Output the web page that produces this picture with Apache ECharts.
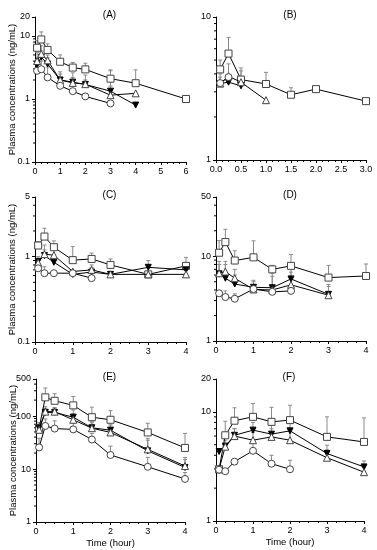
<!DOCTYPE html>
<html><head><meta charset="utf-8">
<script src="https://cdn.jsdelivr.net/npm/echarts@6/dist/echarts.min.js"></script>
<style>html,body{margin:0;padding:0;background:#fff}#c{width:377px;height:550px}</style>
</head><body><div id="c"></div>
<script>
// ---- Data (time in hours, concentration in ng/mL; *Err = mean + SD upper end) ----
const tA = [0.083, 0.25, 0.5, 1, 1.5, 2, 3, 4, 6];
const A_sq = [6.5, 8.8, 6.0, 3.9, 3.15, 2.95, 2.1, 1.78, 1.0];
const A_sqErr = [8.5, 11.6, 7.5, 5.0, 3.8, 3.7, 2.9, 2.9, null];
const A_dn = [3.5, 4.6, 3.6, 2.0, 1.85, 1.7, 1.33, 0.8, null];
const A_dnErr = [4.2, 5.8, 4.5, 2.7, 2.2, 2.0, 1.6, null, null];
const A_tri = [4.0, 5.2, 4.1, 2.0, 1.8, 1.72, 1.15, 1.23, null];
const A_triErr = [5.5, 7.0, 5.0, 2.5, 2.6, 2.4, 2.8, null, null];
const A_ci = [2.8, 2.97, 2.2, 1.62, 1.33, 1.1, 0.85, null, null];
const A_ciErr = [3.5, 4.0, 3.2, null, null, null, null, null, null];

const tB = [0.083, 0.25, 0.5, 1, 1.5, 2, 3];
const B_sq = [4.3, 5.55, 3.65, 3.4, 2.86, 3.13, 2.58];
const B_sqErr = [5.0, 7.2, 4.4, 4.1, 3.2, null, null];
const B_dn = [3.42, 3.5, 3.3, null, null, null, null];
const B_dnErr = [3.8, 3.9, null, null, null, null, null];
const B_tri = [3.42, 3.85, 3.5, 2.62, null, null, null];
const B_triErr = [4.0, 4.7, 4.2, null, null, null, null];
const B_ci = [3.45, 3.8, null, null, null, null, null];
const B_ciErr = [null, null, null, null, null, null, null];

const tC = [0.083, 0.25, 0.5, 1, 1.5, 2, 3, 4];
const C_sq = [1.35, 1.72, 1.29, 0.91, 0.94, 0.80, 0.62, 0.78];
const C_sqErr = [1.5, 2.15, 1.53, 1.31, 1.1, 0.94, null, 0.98];
const C_dn = [0.88, 1.03, 0.86, 0.62, 0.66, 0.62, 0.75, 0.70];
const C_dnErr = [1.0, 1.37, null, null, 0.75, null, 0.9, null];
const C_tri = [0.85, 1.07, 1.04, 0.67, 0.70, 0.62, 0.62, 0.62];
const C_triErr = [null, 1.2, 1.2, null, 0.8, null, null, null];
const C_ci = [0.73, 0.64, 0.64, 0.64, 0.56, null, null, null];
const C_ciErr = [null, 0.76, null, null, null, null, null, null];

const tD = [0.083, 0.25, 0.5, 1, 1.5, 2, 3, 4];
const D_sq = [11.0, 14.7, 8.9, 9.7, 7.0, 7.7, 5.6, 5.85];
const D_sqErr = [15.3, 20.8, 11.6, 15.2, 7.8, 10.5, 7.8, 8.1];
const D_dn = [6.2, 5.5, 4.7, 4.3, 4.25, 5.4, 3.55, null];
const D_dnErr = [8.7, 8.0, 6.0, 5.2, 6.3, 7.2, 4.65, null];
const D_tri = [6.3, 6.6, 5.5, 4.06, 4.0, 4.6, 3.47, null];
const D_triErr = [8.0, 8.7, 7.0, 5.0, 5.8, 6.5, 4.4, null];
const D_ci = [3.65, 3.3, 3.15, 4.1, 3.8, 3.9, null, null];
const D_ciErr = [null, 3.9, 3.6, null, null, null, null, null];

const tE = [0.083, 0.25, 0.5, 1, 1.5, 2, 3, 4];
const E_sq = [59, 225, 194, 159, 95, 85, 49, 25];
const E_sqErr = [null, 338, 264, 234, 147, 127, 73, 47];
const E_dn = [59, 117, 117, 95, 60, 54, 22, 10.7];
const E_dnErr = [75, 140, 140, 130, 75, 70, 35, 16.5];
const E_tri = [55, 121, 121, 85, 59, 49, 23.5, 11.4];
const E_triErr = [70, 150, 145, 110, 80, 65, 38, 15];
const E_ci = [25.6, 65, 58, 56, 36, 18.4, 11, 6.5];
const E_ciErr = [38, 88, 81, 75, 47, 27, 16.6, 8.6];

const tF = [0.083, 0.25, 0.5, 1, 1.5, 2, 3, 4];
const F_sq = [2.98, 6.1, 8.3, 9.0, 8.1, 8.4, 5.9, 5.3];
const F_sqErr = [null, 8.2, 10.9, 11.9, 11.0, 11.5, 9.0, 8.8];
const F_dn = [4.33, 4.85, 6.1, 6.8, 6.25, 6.7, 4.15, 3.13];
const F_dnErr = [null, 5.5, 7.05, 8.0, 7.5, 8.0, 4.95, 3.55];
const F_tri = [2.98, 4.8, 6.0, 5.5, 5.9, 5.5, 3.8, 2.8];
const F_triErr = [null, null, 7.0, 6.5, 7.0, 7.0, 4.5, 3.2];
const F_ci = [2.95, 2.86, 3.5, 4.4, 3.35, 2.98, null, null];
const F_ciErr = [null, null, null, 5.2, 4.0, 3.6, null, null];

// Tick labels
const yLabA = [0.1, 1, 10, 20], yLabB = [1, 10], yLabC = [0.1, 1, 5];
const yLabD = [1, 10, 50], yLabE = [1, 10, 100, 500], yLabF = [1, 10, 20];
const titles = ['(A)', '(B)', '(C)', '(D)', '(E)', '(F)'];
const yName = 'Plasma concentrations (ng/mL)';
const xName = 'Time (hour)';

// ---- Layout ----
const panels = [
  {t: tA, s: [A_sq, A_dn, A_tri, A_ci], e: [A_sqErr, A_dnErr, A_triErr, A_ciErr], grid: {left: 35, top: 17, width: 151, height: 145}, x: [0, 6, 1, 0], y: yLabA, yn: true, xn: false},
  {t: tB, s: [B_sq, B_dn, B_tri, B_ci], e: [B_sqErr, B_dnErr, B_triErr, B_ciErr], grid: {left: 216, top: 17, width: 150, height: 143}, x: [0, 3, 0.5, 1], y: yLabB, yn: false, xn: false},
  {t: tC, s: [C_sq, C_dn, C_tri, C_ci], e: [C_sqErr, C_dnErr, C_triErr, C_ciErr], grid: {left: 35, top: 197, width: 151, height: 145}, x: [0, 4, 1, 0], y: yLabC, yn: true, xn: false},
  {t: tD, s: [D_sq, D_dn, D_tri, D_ci], e: [D_sqErr, D_dnErr, D_triErr, D_ciErr], grid: {left: 216, top: 197, width: 150, height: 144}, x: [0, 4, 1, 0], y: yLabD, yn: false, xn: false},
  {t: tE, s: [E_sq, E_dn, E_tri, E_ci], e: [E_sqErr, E_dnErr, E_triErr, E_ciErr], grid: {left: 36, top: 379, width: 149, height: 143}, x: [0, 4, 1, 0], y: yLabE, yn: true, xn: true},
  {t: tF, s: [F_sq, F_dn, F_tri, F_ci], e: [F_sqErr, F_dnErr, F_triErr, F_ciErr], grid: {left: 216, top: 379, width: 148, height: 142}, x: [0, 4, 1, 0], y: yLabF, yn: false, xn: true}
];

const FONT = 'Liberation Sans, Arial, sans-serif';
const markers = [
  {symbol: 'rect', size: 7, color: '#fff', border: '#444', rotate: 0},
  {symbol: 'triangle', size: 6, color: '#000', border: '#000', rotate: 180},
  {symbol: 'triangle', size: 7, color: '#fff', border: '#444', rotate: 0},
  {symbol: 'circle', size: 7, color: '#fff', border: '#444', rotate: 0}
];

function minorVals(min, max) {
  const out = [];
  for (let d = -2; d <= 3; d++) {
    for (let k = 2; k <= 9; k++) {
      const v = k * Math.pow(10, d);
      if (v > min * 1.0001 && v < max * 0.9999) out.push(+v.toPrecision(3));
    }
  }
  return out;
}

const grid = [], xAxis = [], yAxis = [], series = [], title = [];
panels.forEach((p, i) => {
  grid.push(Object.assign({containLabel: false}, p.grid));
  const ymin = p.y[0], ymax = p.y[p.y.length - 1];
  xAxis.push({
    type: 'value', gridIndex: i, min: p.x[0], max: p.x[1], interval: p.x[2],
    splitLine: {show: false},
    axisLine: {lineStyle: {color: '#000', width: 1}},
    axisTick: {length: 3, lineStyle: {color: '#000'}},
    minorTick: {show: true, splitNumber: 4, length: 2, lineStyle: {color: '#000'}},
    axisLabel: {fontSize: 9, color: '#000', fontFamily: FONT, margin: 5,
      formatter: v => p.x[3] ? v.toFixed(1) : String(v)},
    name: p.xn ? xName : '', nameLocation: 'middle', nameGap: 16, nameMoveOverlap: false,
    nameTextStyle: {fontSize: 9.5, color: '#000', fontFamily: FONT}
  });
  yAxis.push({
    type: 'log', logBase: 10, gridIndex: i, min: ymin, max: ymax, position: 'left',
    splitLine: {show: false},
    axisLine: {show: true, lineStyle: {color: '#000', width: 1}},
    axisTick: {show: true, length: 3, customValues: p.y, lineStyle: {color: '#000'}},
    axisLabel: {fontSize: 9, color: '#000', fontFamily: FONT, margin: 5, customValues: p.y,
      formatter: v => String(+(+v).toPrecision(3))},
    name: p.yn ? yName : '', nameLocation: 'middle', nameGap: 18, nameMoveOverlap: false,
    nameTextStyle: {fontSize: 9.5, color: '#000', fontFamily: FONT}
  });
  title.push({
    text: titles[i], left: p.grid.left + p.grid.width / 2 - 6, top: p.grid.top - 12,
    textAlign: 'center',
    textStyle: {fontSize: 10, fontWeight: 'normal', color: '#000', fontFamily: FONT}
  });
  // minor log ticks on the y axis, placed through the axis scale
  series.push({
    type: 'custom', xAxisIndex: i, yAxisIndex: i, z: 1, silent: true, clip: false,
    data: minorVals(ymin, ymax).map(v => [p.x[0], v]),
    renderItem: (params, api) => {
      const a = api.coord([api.value(0), api.value(1)]);
      return {type: 'line', shape: {x1: a[0] - 2, y1: a[1], x2: a[0], y2: a[1]},
        style: {stroke: '#000', lineWidth: 1}};
    }
  });
  p.s.forEach((arr, k) => {
    const errData = [];
    p.t.forEach((x, j) => {
      if (arr[j] != null && p.e[k][j] != null) errData.push([x, arr[j], p.e[k][j]]);
    });
    series.push({
      type: 'custom', xAxisIndex: i, yAxisIndex: i, z: 1, silent: true,
      data: errData, encode: {x: 0, y: [1, 2]},
      renderItem: (params, api) => {
        const a = api.coord([api.value(0), api.value(1)]);
        const b = api.coord([api.value(0), api.value(2)]);
        const st = {stroke: '#8a8a8a', lineWidth: 1};
        return {type: 'group', children: [
          {type: 'line', shape: {x1: a[0], y1: a[1], x2: b[0], y2: b[1]}, style: st},
          {type: 'line', shape: {x1: b[0] - 2, y1: b[1], x2: b[0] + 2, y2: b[1]}, style: st}
        ]};
      }
    });
  });
  p.s.forEach((arr, k) => {
    const m = markers[k];
    const d = [];
    p.t.forEach((x, j) => { if (arr[j] != null) d.push([x, arr[j]]); });
    series.push({
      type: 'line', xAxisIndex: i, yAxisIndex: i, z: 3 + k, data: d,
      symbol: m.symbol, symbolSize: m.size, symbolRotate: m.rotate, showAllSymbol: true,
      lineStyle: {color: '#000', width: 1},
      itemStyle: {color: m.color, borderColor: m.border, borderWidth: 1},
      animation: false, silent: true
    });
  });
});

const chart = echarts.init(document.getElementById('c'), null, {renderer: 'canvas'});
chart.setOption({animation: false, backgroundColor: '#fff', title, grid, xAxis, yAxis, series});
</script></body></html>
